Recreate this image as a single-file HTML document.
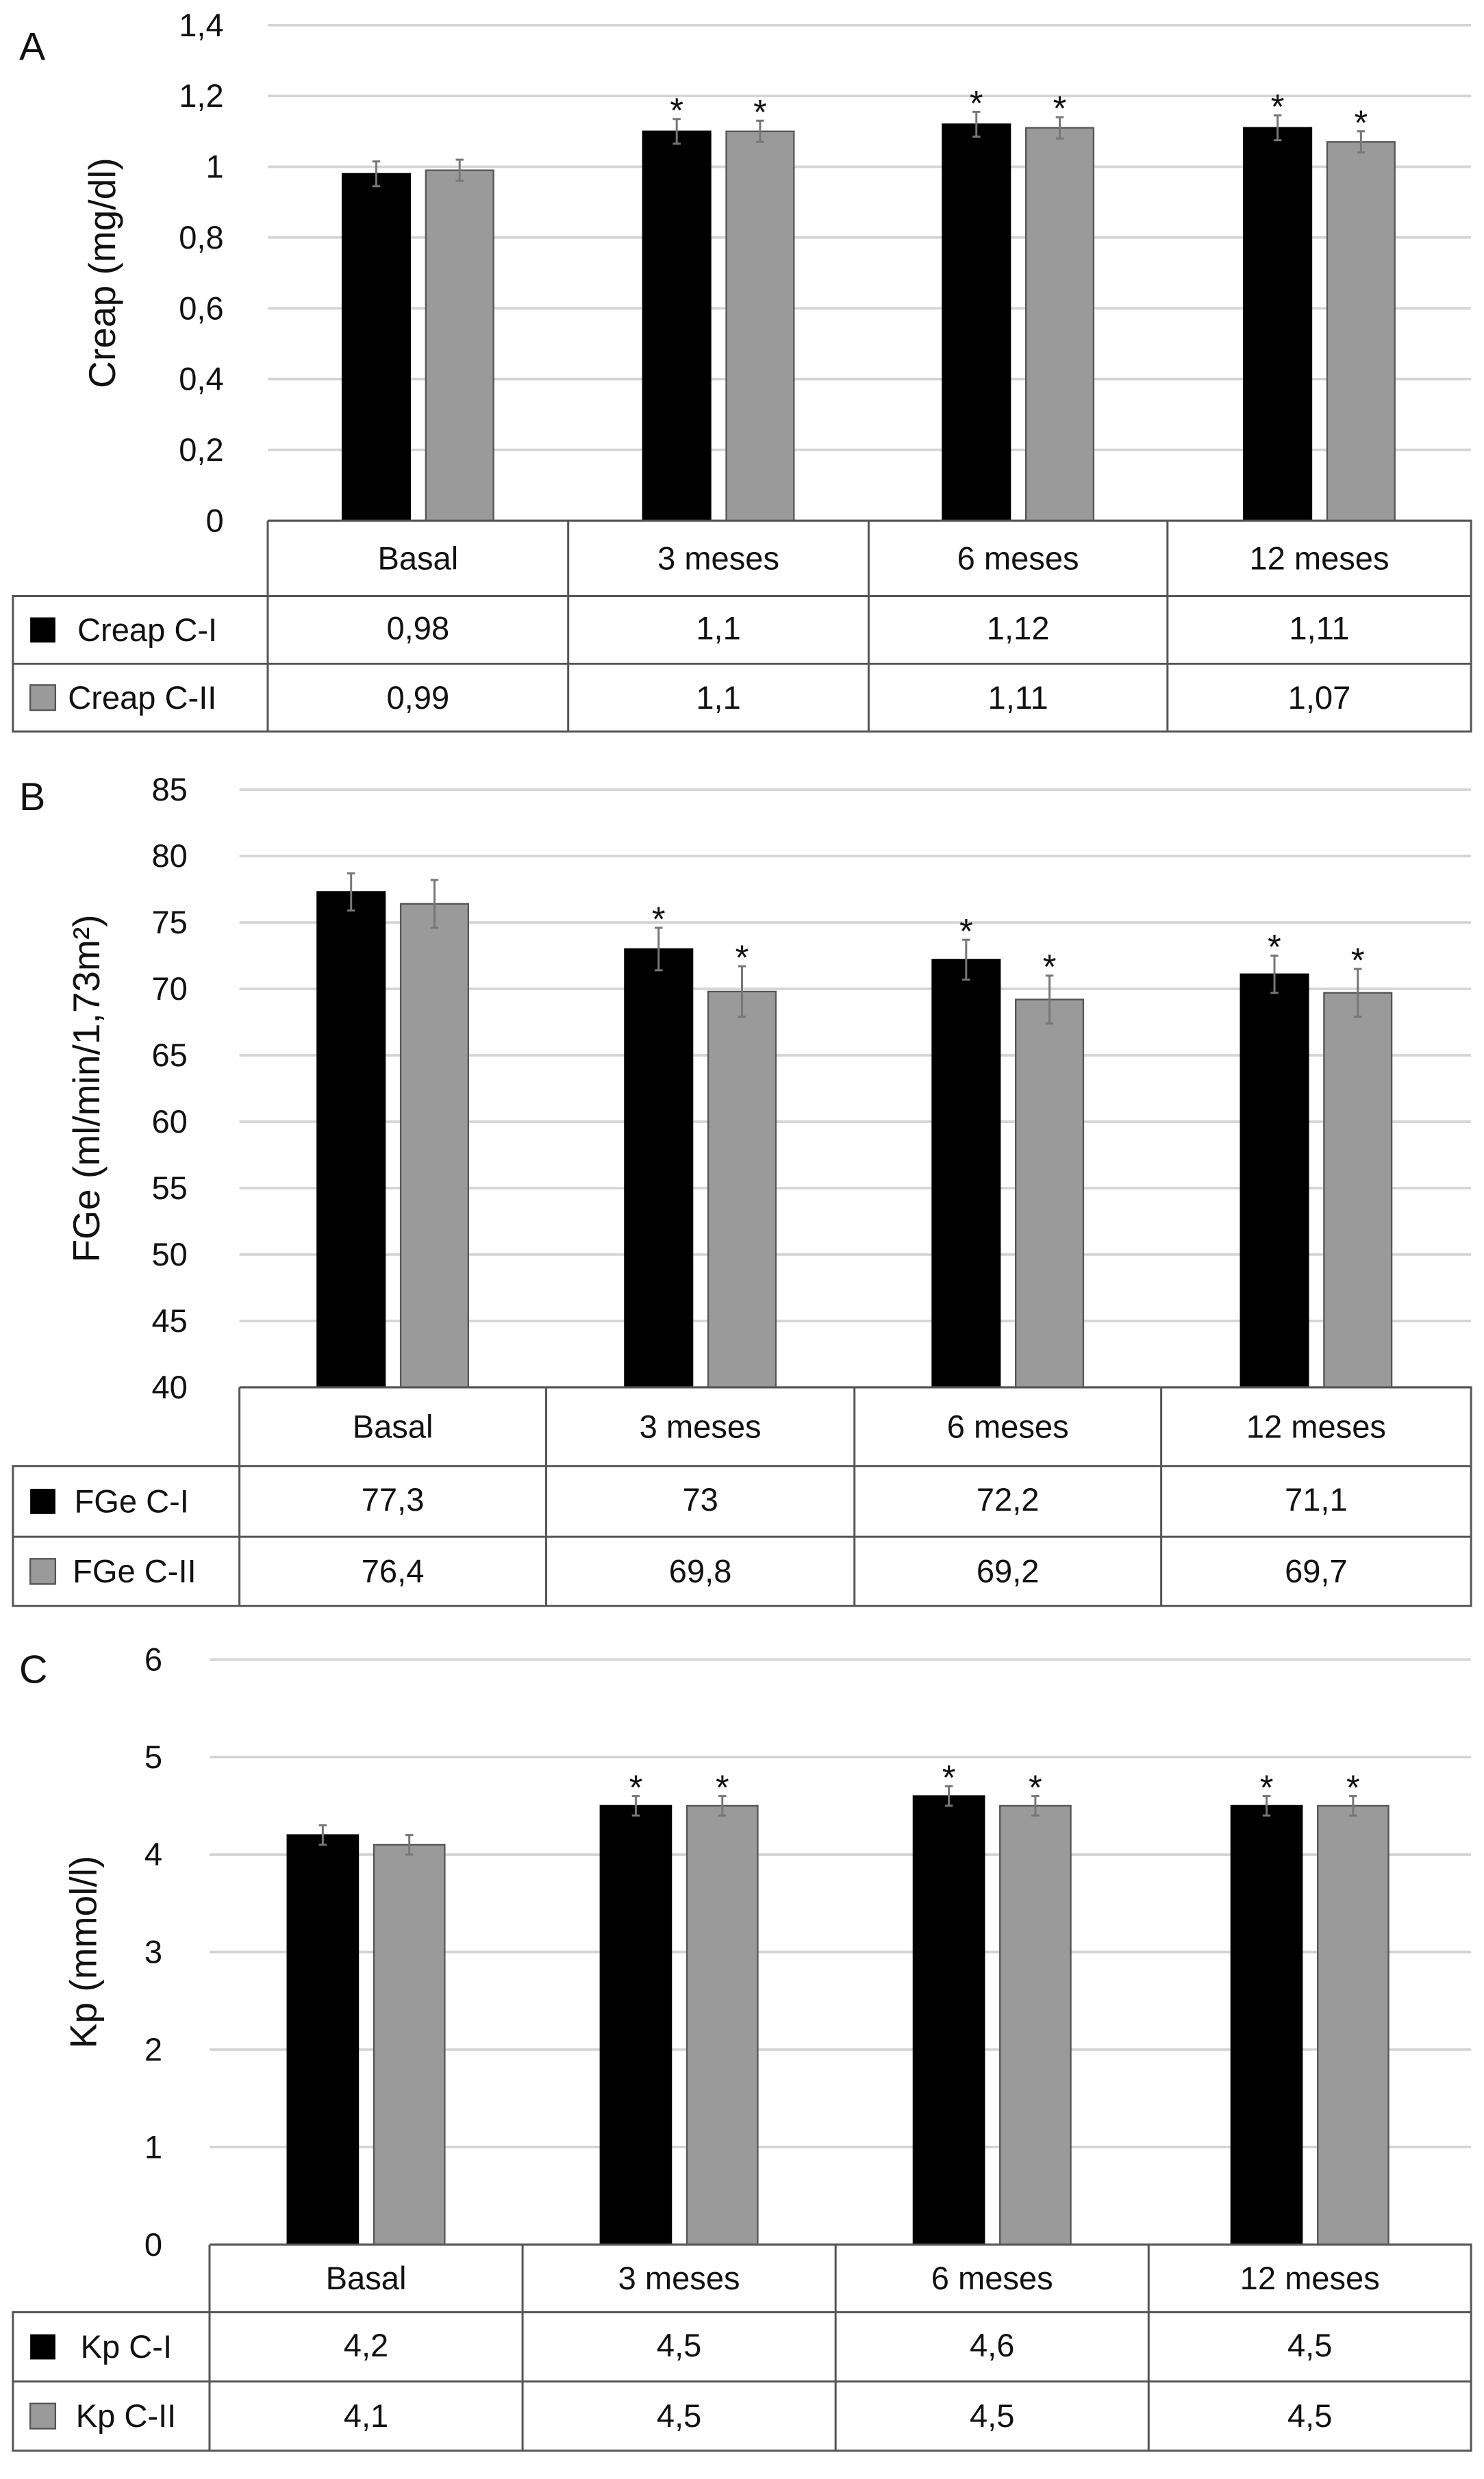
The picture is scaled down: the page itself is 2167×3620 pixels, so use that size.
<!DOCTYPE html>
<html><head><meta charset="utf-8"><style>
html,body{margin:0;padding:0;background:#fff}
svg{display:block}
text{font-family:"Liberation Sans",Arial,sans-serif;fill:#111}
</style></head><body>
<svg id="fig" width="2167" height="3620" viewBox="0 0 943 1576" xmlns="http://www.w3.org/2000/svg"></svg>
<script>
const categories = ["Basal","3 meses","6 meses","12 meses"];
const creapC1 = [0.98,1.1,1.12,1.11];
const creapC2 = [0.99,1.1,1.11,1.07];
const creapErr1 = [0.035,0.035,0.035,0.035];
const creapErr2 = [0.03,0.03,0.03,0.03];
const creapSig1 = [false,true,true,true];
const creapSig2 = [false,true,true,true];
const creapTicks = ["0","0,2","0,4","0,6","0,8","1","1,2","1,4"];
const creapLabels1 = ["0,98","1,1","1,12","1,11"];
const creapLabels2 = ["0,99","1,1","1,11","1,07"];
const fgeC1 = [77.3,73,72.2,71.1];
const fgeC2 = [76.4,69.8,69.2,69.7];
const fgeErr1 = [1.4,1.6,1.5,1.4];
const fgeErr2 = [1.8,1.9,1.8,1.8];
const fgeSig1 = [false,true,true,true];
const fgeSig2 = [false,true,true,true];
const fgeTicks = ["40","45","50","55","60","65","70","75","80","85"];
const fgeLabels1 = ["77,3","73","72,2","71,1"];
const fgeLabels2 = ["76,4","69,8","69,2","69,7"];
const kpC1 = [4.2,4.5,4.6,4.5];
const kpC2 = [4.1,4.5,4.5,4.5];
const kpErr1 = [0.1,0.1,0.1,0.1];
const kpErr2 = [0.1,0.1,0.1,0.1];
const kpSig1 = [false,true,true,true];
const kpSig2 = [false,true,true,true];
const kpTicks = ["0","1","2","3","4","5","6"];
const kpLabels1 = ["4,2","4,5","4,6","4,5"];
const kpLabels2 = ["4,1","4,5","4,5","4,5"];

const NS="http://www.w3.org/2000/svg";
const svg=document.getElementById('fig');
function mk(tag,attrs,parent){const e=document.createElementNS(NS,tag);for(const k in attrs)e.setAttribute(k,attrs[k]);(parent||svg).appendChild(e);return e;}
function txt(s,attrs,parent){const e=mk('text',attrs,parent);e.textContent=s;return e;}

function panel(cfg){
  const g=mk('g',{});
  
  
  const yScale=v=>cfg.y0-(v-cfg.vmin)/(cfg.vmax-cfg.vmin)*(cfg.y0-cfg.yTop);
  const l=txt(cfg.letter,{x:12,y:cfg.letterY,'font-size':25},g);
  
  
  cfg.ticks.forEach((t,i)=>{
    const v=cfg.vmin+i*cfg.step; const y=yScale(v);
    const gl=mk('line',{x1:cfg.cols[0],x2:935,y1:y,y2:y,stroke:'#d4d4d4','stroke-width':1.6},g);
    
    
    const tl=txt(t,{x:cfg.tickX,y:y+7,'font-size':20.5,'text-anchor':'end'},g);
    
    
  });
  const at=txt(cfg.title,{x:0,y:0,'font-size':cfg.titleSize,'text-anchor':'middle',transform:`translate(${cfg.titleX},${(cfg.yTop+cfg.y0)/2}) rotate(-90)`},g);
  
  
  categories.forEach((c,i)=>{
    const cx=(cfg.cols[i]+cfg.cols[i+1])/2;
    [[cfg.s1,cfg.e1,cfg.sig1,'#000','#000',-cfg.off-cfg.bw],[cfg.s2,cfg.e2,cfg.sig2,'#9a9a9a','#555',cfg.off]].forEach((s,k)=>{
      const v=s[0][i], y=yScale(v);
      const r=mk('rect',{x:cx+s[5],y:y,width:cfg.bw,height:cfg.y0-y,fill:s[3],stroke:s[4],'stroke-width':1},g);
      
      
      const bx=cx+s[5]+cfg.bw/2, yt=yScale(v+s[1][i]), yb=yScale(v-s[1][i]);
      const eb=mk('path',{d:`M${bx},${yt}V${yb}M${bx-2.5},${yt}H${bx+2.5}M${bx-2.5},${yb}H${bx+2.5}`,stroke:'#777','stroke-width':1.3,fill:'none'},g);
      
      
      if(s[2][i]){
        const a=txt('*',{x:bx,y:yt+2,'font-size':22,'text-anchor':'middle','font-family':'Liberation Serif'},g);
        
        
      }
    });
  });
  const r0=cfg.y0, r1=cfg.rows[0], r2=cfg.rows[1], r3=cfg.rows[2];
  const tb=mk('g',{stroke:'#555','stroke-width':1.3,fill:'none'},g);
  
  
  mk('path',{d:`M${cfg.cols[0]},${r0}H935V${r3}H8V${r1}H935M8,${r2}H935M${cfg.cols[0]},${r0}V${r3}M${cfg.cols[1]},${r0}V${r3}M${cfg.cols[2]},${r0}V${r3}M${cfg.cols[3]},${r0}V${r3}`},tb);
  categories.forEach((c,i)=>{
    const cx=(cfg.cols[i]+cfg.cols[i+1])/2;
    const h=txt(c,{x:cx,y:(r0+r1)/2+7,'font-size':20.5,'text-anchor':'middle'},g);
    
    
    const a=txt(cfg.l1[i],{x:cx,y:(r1+r2)/2+6,'font-size':20.5,'text-anchor':'middle'},g);
    
    
    const b=txt(cfg.l2[i],{x:cx,y:(r2+r3)/2+7,'font-size':20.5,'text-anchor':'middle'},g);
    
    
  });
  const k1=mk('rect',{x:19,y:(r1+r2)/2-8,width:16,height:16,fill:'#000'},g);
  
  
  const k2=mk('rect',{x:19,y:(r2+r3)/2-8,width:16,height:16,fill:'#9a9a9a',stroke:'#555'},g);
  
  
  const n1=txt(cfg.n1,{x:cfg.nx1,y:(r1+r2)/2+7,'font-size':20.5},g);
  
  
  const n2=txt(cfg.n2,{x:cfg.nx2,y:(r2+r3)/2+7,'font-size':20.5},g);
  
  
}

panel({letter:'A',letterY:38,vmin:0,vmax:1.4,step:0.2,y0:331,yTop:16,ticks:creapTicks,tickX:142,title:'Creap (mg/dl)',titleX:73,titleSize:24,
  cols:[170,361,552,742,935],rows:[379,422,465],bw:43,off:5,s1:creapC1,s2:creapC2,e1:creapErr1,e2:creapErr2,sig1:creapSig1,sig2:creapSig2,
  l1:creapLabels1,l2:creapLabels2,n1:'Creap C-I',n2:'Creap C-II',nx1:49,nx2:43});
panel({letter:'B',letterY:515,vmin:40,vmax:85,step:5,y0:882,yTop:502,ticks:fgeTicks,tickX:119,title:'FGe (ml/min/1,73m²)',titleX:63,titleSize:24,
  cols:[152,347,543,738,935],rows:[932,977,1021],bw:43,off:5,s1:fgeC1,s2:fgeC2,e1:fgeErr1,e2:fgeErr2,sig1:fgeSig1,sig2:fgeSig2,
  l1:fgeLabels1,l2:fgeLabels2,n1:'FGe C-I',n2:'FGe C-II',nx1:47,nx2:46});
panel({letter:'C',letterY:1070,vmin:0,vmax:6,step:1,y0:1427,yTop:1055,ticks:kpTicks,tickX:103,title:'Kp (mmol/l)',titleX:61,titleSize:24,
  cols:[133,332,531,730,935],rows:[1470,1514,1558],bw:45,off:5,s1:kpC1,s2:kpC2,e1:kpErr1,e2:kpErr2,sig1:kpSig1,sig2:kpSig2,
  l1:kpLabels1,l2:kpLabels2,n1:'Kp C-I',n2:'Kp C-II',nx1:51,nx2:48});
</script>
</body></html>
